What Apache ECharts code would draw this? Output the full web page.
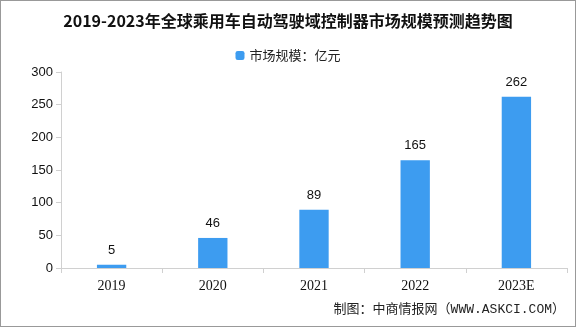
<!DOCTYPE html>
<html><head><meta charset="utf-8">
<script src="https://cdn.jsdelivr.net/npm/echarts@6/dist/echarts.min.js"></script>
<style>html,body{margin:0;padding:0;background:#fff}#c{width:576px;height:327px;box-sizing:border-box;border:1px solid #999}</style>
</head><body><div id="c"></div>
<script>
var categories = ['2019','2020','2021','2022','2023E'];
var values = [5, 46, 89, 165, 262];
var yTicks = [0, 50, 100, 150, 200, 250, 300];
var titleText = '2019-2023年全球乘用车自动驾驶域控制器市场规模预测趋势图';
var seriesName = '市场规模：亿元';
var sourceText = '制图：中商情报网（WWW.ASKCI.COM）';

var chart = echarts.init(document.getElementById('c'));
chart.setOption({
  animation: false,
  title: {text: titleText, left: 'center', top: 7,
    textStyle: {fontFamily: 'Noto Sans CJK SC', fontWeight: 'bold', fontSize: 16, color: '#111'}},
  legend: {data: [seriesName], top: 43, left: 'center', itemWidth: 9, itemHeight: 9,
    textStyle: {fontFamily: 'Noto Sans CJK SC', fontSize: 13, color: '#222'}},
  graphic: [{type: 'text', right: 10, top: 302,
    style: {text: sourceText, font: '13px "Liberation Mono", "Noto Sans CJK SC"', fill: '#222'}}],
  grid: {left: 60, right: 8, top: 71, bottom: 58},
  xAxis: {type: 'category', data: categories,
    axisLine: {lineStyle: {color: '#d0d0d0'}},
    axisTick: {show: true, lineStyle: {color: '#d0d0d0'}},
    axisLabel: {color: '#111', fontFamily: 'Liberation Serif', fontSize: 14, margin: 11}},
  yAxis: {type: 'value', min: yTicks[0], max: yTicks[yTicks.length-1], interval: 50,
    axisLine: {show: true, lineStyle: {color: '#d0d0d0'}},
    axisTick: {show: true, lineStyle: {color: '#d0d0d0'}},
    splitLine: {show: false},
    axisLabel: {color: '#111', fontFamily: 'Liberation Sans', fontSize: 13, margin: 8}},
  series: [{name: seriesName, type: 'bar', data: values, barWidth: '29%',
    itemStyle: {color: '#3d9cf0'},
    label: {show: true, position: 'top', distance: 8, color: '#111', fontFamily: 'Liberation Sans', fontSize: 13}}]
});
</script></body></html>
